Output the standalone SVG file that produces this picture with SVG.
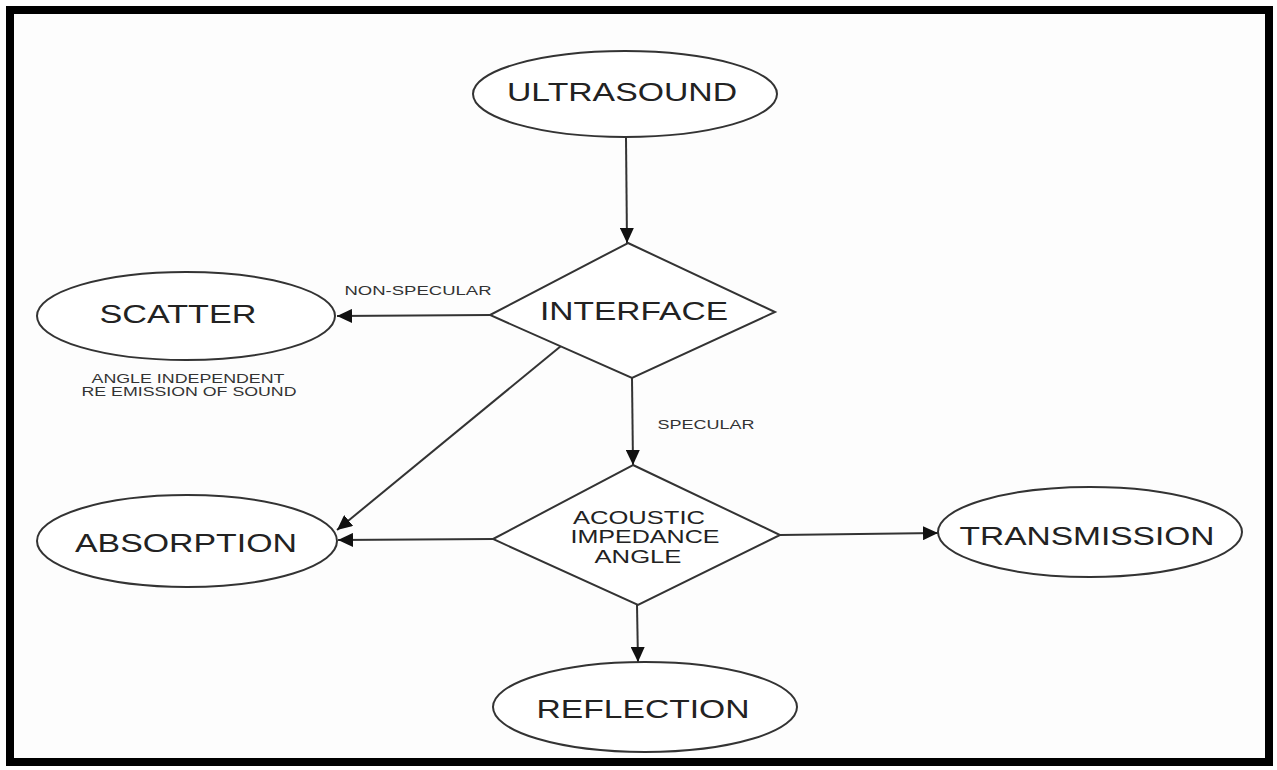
<svg xmlns="http://www.w3.org/2000/svg" width="1277" height="770" viewBox="0 0 1277 770">
<defs>
<marker id="ah" markerUnits="userSpaceOnUse" markerWidth="16" markerHeight="14" refX="15" refY="7" orient="auto">
<path d="M0,0 L15,7 L0,14 z" fill="#111"/>
</marker>
<style>
.shape{fill:#fff;stroke:#333;stroke-width:2}
.big{font-family:"Liberation Sans",Arial,sans-serif;font-size:26px;fill:#222;text-anchor:middle}
.mid{font-family:"Liberation Sans",Arial,sans-serif;font-size:19px;fill:#222;text-anchor:middle}
.small{font-family:"Liberation Sans",Arial,sans-serif;font-size:12.5px;fill:#333;text-anchor:middle}
.conn{stroke:#333;stroke-width:2;fill:none;marker-end:url(#ah)}
</style>
</defs>
<rect x="0" y="0" width="1277" height="770" fill="#fff"/>
<rect x="10" y="10" width="1259" height="752" fill="#fdfdfd" stroke="#000" stroke-width="8"/>

<g id="connectors">
<path class="conn" d="M626,138 L627,243"/>
<path class="conn" d="M490,315 L337,316"/>
<path class="conn" d="M632,378 L633,465"/>
<path class="conn" d="M561,346 L337,530"/>
<path class="conn" d="M493,539 L338,540"/>
<path class="conn" d="M780,535 L938,533"/>
<path class="conn" d="M637,605 L638,662"/>
</g>

<g id="ultrasound">
<ellipse class="shape" cx="625" cy="94" rx="152" ry="43"/>
<text class="big" x="622" y="101" textLength="230" lengthAdjust="spacingAndGlyphs">ULTRASOUND</text>
</g>

<g id="interface">
<polygon class="shape" points="628,243 775,312 632,378 490,315"/>
<text class="big" x="634" y="320" textLength="188" lengthAdjust="spacingAndGlyphs">INTERFACE</text>
</g>

<g id="scatter">
<ellipse class="shape" cx="186" cy="316" rx="149" ry="44"/>
<text class="big" x="178" y="323" textLength="157" lengthAdjust="spacingAndGlyphs">SCATTER</text>
<text class="small" x="188" y="383" textLength="193" lengthAdjust="spacingAndGlyphs">ANGLE INDEPENDENT</text>
<text class="small" x="189" y="396" textLength="215" lengthAdjust="spacingAndGlyphs">RE EMISSION OF SOUND</text>
</g>

<g id="label-nonspecular">
<text class="small" x="418" y="295" textLength="147" lengthAdjust="spacingAndGlyphs">NON-SPECULAR</text>
</g>

<g id="label-specular">
<text class="small" x="706" y="429" textLength="97" lengthAdjust="spacingAndGlyphs">SPECULAR</text>
</g>

<g id="acoustic">
<polygon class="shape" points="633,465 780,535 638,605 493,539"/>
<text class="mid" x="639" y="524" textLength="132" lengthAdjust="spacingAndGlyphs">ACOUSTIC</text>
<text class="mid" x="645" y="543" textLength="149" lengthAdjust="spacingAndGlyphs">IMPEDANCE</text>
<text class="mid" x="638" y="563" textLength="87" lengthAdjust="spacingAndGlyphs">ANGLE</text>
</g>

<g id="absorption">
<ellipse class="shape" cx="187" cy="541" rx="150" ry="46"/>
<text class="big" x="186" y="552" textLength="222" lengthAdjust="spacingAndGlyphs">ABSORPTION</text>
</g>

<g id="transmission">
<ellipse class="shape" cx="1090" cy="532" rx="152" ry="45"/>
<text class="big" x="1087" y="545" textLength="255" lengthAdjust="spacingAndGlyphs">TRANSMISSION</text>
</g>

<g id="reflection">
<ellipse class="shape" cx="645" cy="707" rx="152" ry="45"/>
<text class="big" x="643" y="718" textLength="213" lengthAdjust="spacingAndGlyphs">REFLECTION</text>
</g>
</svg>
